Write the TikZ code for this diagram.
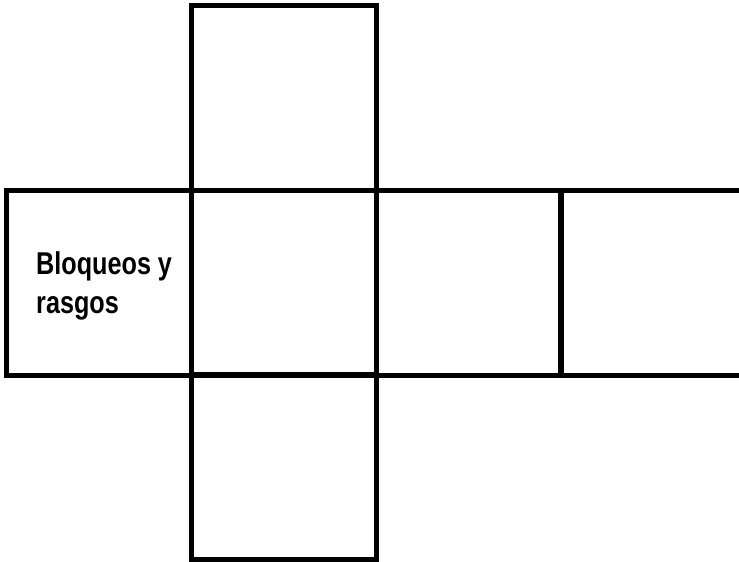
\documentclass[tikz,border=0pt]{standalone}
\usepackage{fontspec}
\newfontfamily\labelfont[FakeStretch=0.8]{Liberation Sans}
\begin{document}
\begin{tikzpicture}[x={(1pt,0)},y={(0,-1pt)},
  cell/.style={draw=black,line width=5pt,minimum width=185pt,minimum height=185pt,inner sep=0pt,outer sep=0pt},
  lbl/.style={anchor=base west,align=left,inner sep=0pt,font=\labelfont\bfseries\fontsize{31.5}{39}\selectfont}]
\useasboundingbox (0,0) rectangle (739,562);
\node[cell] (top) at (284,97.75) {};
\node[cell] (left) at (99,282.5) {};
\node[cell] (center) at (284,282.5) {};
\node[cell] (right) at (468.5,282.5) {};
\node[cell] (far) at (653,282.5) {};
\node[cell] (bottom) at (284,467) {};
\node[lbl] (text) at (36,313) {Bloqueos y\\rasgos};
\end{tikzpicture}
\end{document}
